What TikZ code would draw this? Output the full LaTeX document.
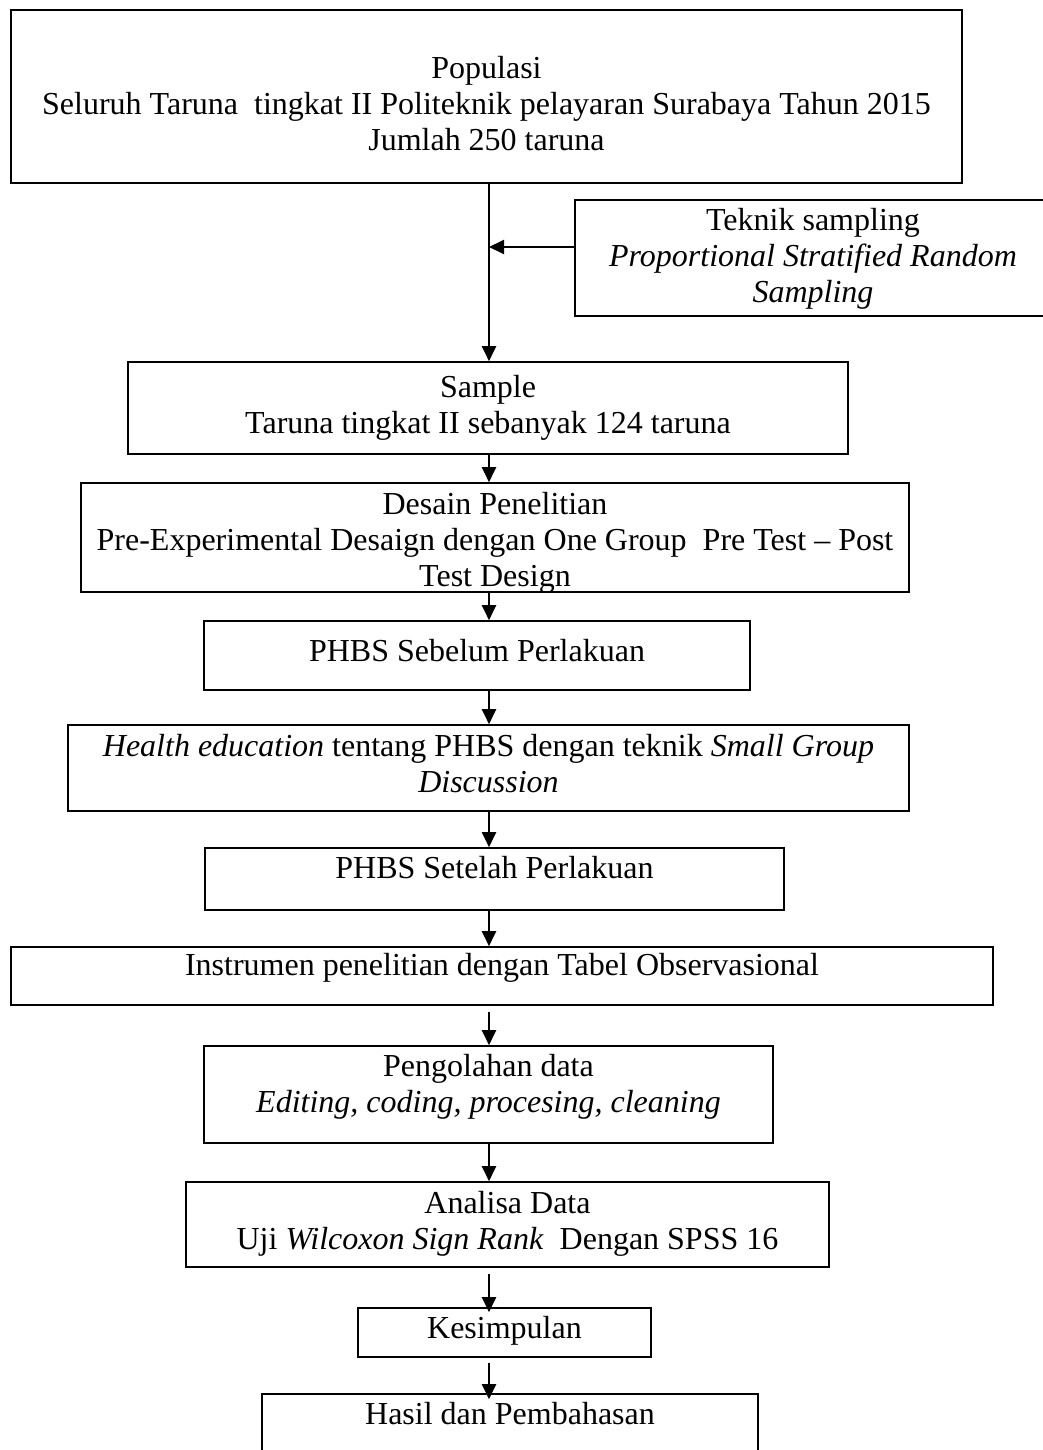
\documentclass[tikz,border=0pt]{standalone}
\usepackage{fontspec}
\setmainfont{Liberation Serif}
\usetikzlibrary{arrows.meta}
\begin{document}
\begin{tikzpicture}[x=0.5pt,y=-0.5pt,
	box/.style={draw,line width=0.8pt,inner sep=0pt,align=center,font={\fontsize{16pt}{18pt}\selectfont},text height=11pt,text depth=5.5pt},
	arr/.style={-{Triangle[length=7.5pt,width=7pt]},line width=1pt}]
	\useasboundingbox (0,0) rectangle (1043,1450);
	\clip (0,0) rectangle (1043,1450);
	% kotak-kotak alur
	\node[box,minimum width=475.5pt,minimum height=86.5pt,text height=55pt,text depth=1pt] (pop) at (486.5,96.5) {Populasi\\Seluruh Taruna~ tingkat II Politeknik pelayaran Surabaya Tahun 2015\\Jumlah 250 taruna};
	\node[box,minimum width=238pt,minimum height=58pt,text height=47pt,text depth=2.5pt] (tek) at (813,258) {Teknik sampling\\\textit{Proportional Stratified Random}\\\textit{Sampling}};
	\node[box,minimum width=360pt,minimum height=46pt,text height=29pt,text depth=4pt] (smp) at (488,408) {Sample\\Taruna tingkat II sebanyak 124 taruna};
	\node[box,minimum width=414pt,minimum height=54.5pt,text height=51pt,text depth=2.5pt] (des) at (495,537.5) {Desain Penelitian\\Pre-Experimental Desaign dengan One Group~ Pre Test -- Post\\Test Design};
	\node[box,minimum width=273pt,minimum height=34.5pt] (pre) at (477,655.5) {PHBS Sebelum Perlakuan};
	\node[box,minimum width=420.5pt,minimum height=43pt,text height=29pt,text depth=4.5pt] (hed) at (488.5,768) {\textit{Health education} tentang PHBS dengan teknik \textit{Small Group}\\\textit{Discussion}};
	\node[box,minimum width=289.5pt,minimum height=31pt,text depth=12pt] (post) at (494.5,879) {PHBS Setelah Perlakuan};
	\node[box,minimum width=491pt,minimum height=29pt,text depth=12pt] (ins) at (502,976) {Instrumen penelitian dengan Tabel Observasional};
	\node[box,minimum width=284.5pt,minimum height=48.5pt,text height=29pt,text depth=11pt] (olah) at (488.5,1094.5) {Pengolahan data\\\textit{Editing, coding, procesing, cleaning}};
	\node[box,minimum width=321.5pt,minimum height=42.5pt,text height=29pt,text depth=4pt] (ana) at (507.5,1224.5) {Analisa Data\\Uji \textit{Wilcoxon Sign Rank}~ Dengan SPSS 16};
	\node[box,minimum width=146.5pt,minimum height=24.5pt] (kes) at (504.5,1332.5) {Kesimpulan};
	\node[box,minimum width=248pt,minimum height=31pt,text depth=12pt] (has) at (510,1425) {Hasil dan Pembahasan};
	\coordinate (j) at (489,247);
	% panah
	\draw[arr] (pop.south -| j) -- (j |- smp.north);
	\draw[arr] (tek.west |- j) -- (j);
	\draw[arr] (smp.south -| j) -- (j |- des.north);
	\draw[arr] (des.south -| j) -- (j |- pre.north);
	\draw[arr] (pre.south -| j) -- (j |- hed.north);
	\draw[arr] (hed.south -| j) -- (j |- post.north);
	\draw[arr] (post.south -| j) -- (j |- ins.north);
	\draw[arr,shorten <=3pt] (ins.south -| j) -- (j |- olah.north);
	\draw[arr] (olah.south -| j) -- (j |- ana.north);
	\draw[arr,shorten <=3pt,shorten >=-2.5pt] (ana.south -| j) -- (j |- kes.north);
	\draw[arr,shorten <=2.5pt,shorten >=-3pt] (kes.south -| j) -- (j |- has.north);
\end{tikzpicture}
\end{document}
